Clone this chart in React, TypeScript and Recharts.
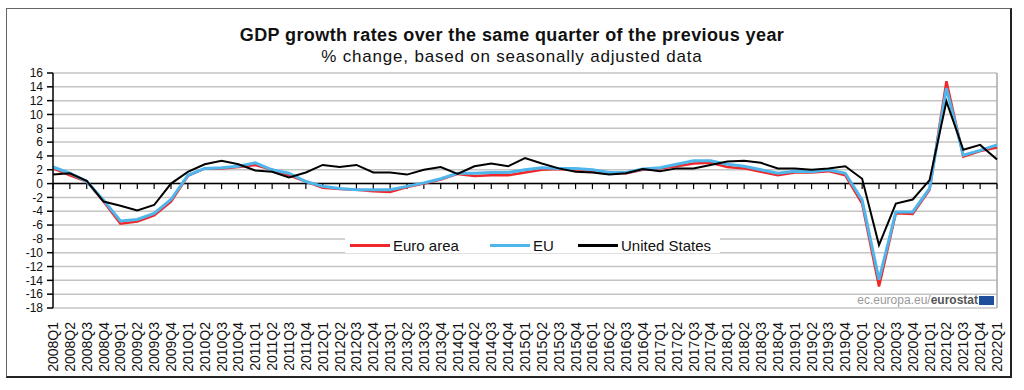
import React from 'react';
import { LineChart, Line, XAxis, YAxis, CartesianGrid, ReferenceLine, Legend } from 'recharts';

const quarters = [
  '2008Q1', '2008Q2', '2008Q3', '2008Q4', '2009Q1', '2009Q2', '2009Q3', '2009Q4',
  '2010Q1', '2010Q2', '2010Q3', '2010Q4', '2011Q1', '2011Q2', '2011Q3', '2011Q4',
  '2012Q1', '2012Q2', '2012Q3', '2012Q4', '2013Q1', '2013Q2', '2013Q3', '2013Q4',
  '2014Q1', '2014Q2', '2014Q3', '2014Q4', '2015Q1', '2015Q2', '2015Q3', '2015Q4',
  '2016Q1', '2016Q2', '2016Q3', '2016Q4', '2017Q1', '2017Q2', '2017Q3', '2017Q4',
  '2018Q1', '2018Q2', '2018Q3', '2018Q4', '2019Q1', '2019Q2', '2019Q3', '2019Q4',
  '2020Q1', '2020Q2', '2020Q3', '2020Q4', '2021Q1', '2021Q2', '2021Q3', '2021Q4',
  '2022Q1',
];

const euroArea = [
  2.2, 1.2, 0.3, -2.6, -5.8, -5.5, -4.6, -2.6,
  1.1, 2.2, 2.2, 2.4, 2.7, 2.0, 1.2, 0.3,
  -0.6, -0.8, -0.9, -1.1, -1.2, -0.5, 0.0, 0.6,
  1.4, 1.1, 1.2, 1.2, 1.6, 2.0, 2.1, 2.0,
  1.8, 1.5, 1.5, 2.0, 2.2, 2.5, 2.9, 3.0,
  2.4, 2.2, 1.7, 1.2, 1.6, 1.6, 1.8, 1.2,
  -2.9, -14.9, -4.3, -4.4, -0.9, 14.8, 3.9, 4.7,
  5.2,
];

const eu = [
  2.4, 1.5, 0.3, -2.4, -5.4, -5.2, -4.3, -2.3,
  1.2, 2.2, 2.3, 2.5, 3.0, 2.0, 1.5, 0.3,
  -0.4, -0.7, -0.9, -0.9, -0.9, -0.4, 0.1, 0.7,
  1.5, 1.5, 1.6, 1.6, 2.0, 2.3, 2.2, 2.2,
  2.0, 1.6, 1.6, 2.1, 2.3, 2.8, 3.3, 3.3,
  2.8, 2.5, 2.0, 1.5, 1.8, 1.7, 2.0, 1.5,
  -2.4, -13.9, -4.1, -4.1, -0.7, 13.8, 4.1, 4.8,
  5.6,
];

const unitedStates = [
  1.3, 1.5, 0.4, -2.6, -3.2, -3.9, -3.1, 0.0,
  1.7, 2.8, 3.3, 2.8, 1.9, 1.7, 0.9, 1.6,
  2.7, 2.4, 2.7, 1.6, 1.6, 1.3, 2.0, 2.4,
  1.4, 2.5, 2.9, 2.5, 3.7, 2.9, 2.2, 1.7,
  1.6, 1.3, 1.5, 2.1, 1.8, 2.2, 2.2, 2.7,
  3.2, 3.3, 3.0, 2.2, 2.2, 2.0, 2.2, 2.5,
  0.7, -8.9, -2.9, -2.3, 0.5, 11.9, 4.9, 5.6,
  3.5,
];

const yTicks = [16, 14, 12, 10, 8, 6, 4, 2, 0, -2, -4, -6, -8, -10, -12, -14, -16, -18];

const data = quarters.map((q, i) => ({
  q,
  euro: euroArea[i],
  eu: eu[i],
  us: unitedStates[i],
}));

const FONT = '"Liberation Sans", Arial, sans-serif';

const XTick = (props: any) => {
  const { x, y, payload } = props;
  return (
    <text
      x={x}
      y={y}
      transform={`rotate(-90 ${x} ${y})`}
      textAnchor="end"
      dy="0.36em"
      fontSize={14}
      fill="#111"
      fontFamily={FONT}
    >
      {payload.value}
    </text>
  );
};

const legendItems = [
  { name: 'Euro area', color: '#f0282a', left: 5 },
  { name: 'EU', color: '#4fb6ec', left: 145 },
  { name: 'United States', color: '#000000', left: 233 },
];

const LegendContent = () => (
  <div style={{ position: 'relative', width: 375, height: 15, background: '#fff' }}>
    {legendItems.map((it) => (
      <div
        key={it.name}
        style={{ position: 'absolute', left: it.left, top: 0, height: 15, display: 'flex', alignItems: 'center' }}
      >
        <div style={{ width: 40, height: 3, background: it.color }} />
        <span style={{ marginLeft: 3, fontSize: 15, fontFamily: FONT, color: '#111', lineHeight: '15px' }}>
          {it.name}
        </span>
      </div>
    ))}
  </div>
);

export default function App() {
  return (
    <div style={{ position: 'absolute', left: 0, top: 0, width: 1024, height: 390, background: '#fff', overflow: 'hidden' }}>
      <div
        style={{
          position: 'absolute',
          left: 6,
          top: 8,
          width: 1003,
          height: 367,
          borderTop: '1px solid #666',
          borderLeft: '1px solid #666',
          borderRight: '2px solid #222',
          borderBottom: '2px solid #222',
        }}
      />
      <div
        style={{
          position: 'absolute',
          left: 0,
          top: 25,
          width: 1024,
          textAlign: 'center',
          fontFamily: FONT,
          fontWeight: 'bold',
          fontSize: 18,
          letterSpacing: 0.4,
          color: '#111',
        }}
      >
        GDP growth rates over the same quarter of the previous year
      </div>
      <div
        style={{
          position: 'absolute',
          left: 0,
          top: 47,
          width: 1024,
          textAlign: 'center',
          fontFamily: FONT,
          fontSize: 17,
          letterSpacing: 0.8,
          color: '#111',
        }}
      >
        % change, based on seasonally adjusted data
      </div>
      <div style={{ position: 'absolute', left: 0, top: 0 }}>
        <LineChart width={1024} height={390} data={data} margin={{ top: 73, right: 27, left: 0, bottom: 0 }}>
          <CartesianGrid vertical={false} stroke="#c4c4c4" strokeWidth={1.5} />
          <XAxis
            dataKey="q"
            type="category"
            interval={0}
            height={82}
            axisLine={false}
            tickLine={false}
            tickMargin={8}
            tick={<XTick />}
          />
          <YAxis
            type="number"
            domain={[-18, 16]}
            ticks={yTicks}
            interval={0}
            width={53}
            tickSize={6}
            tickMargin={4}
            axisLine={{ stroke: '#000', strokeWidth: 1.5 }}
            tickLine={{ stroke: '#000', strokeWidth: 1.5 }}
            tick={{ fontSize: 12, fill: '#111', fontFamily: FONT }}
          />
          <ReferenceLine x={quarters[quarters.length - 1]} stroke="#a8a8a8" strokeWidth={1.5} />
          <ReferenceLine y={0} stroke="#000" strokeWidth={1.5} />
          {quarters.map((q) => (
            <ReferenceLine
              key={'t' + q}
              segment={[{ x: q, y: 0 }, { x: q, y: -0.8 }]}
              stroke="#000"
              strokeWidth={1.2}
            />
          ))}
          <Legend
            layout="horizontal"
            verticalAlign="middle"
            align="center"
            content={<LegendContent />}
            wrapperStyle={{ left: 345, top: 238, width: 375, height: 15 }}
          />
          <Line type="linear" dataKey="euro" stroke="#f0282a" strokeWidth={2.5} dot={false} isAnimationActive={false} />
          <Line type="linear" dataKey="eu" stroke="#4fb6ec" strokeWidth={3} dot={false} isAnimationActive={false} />
          <Line type="linear" dataKey="us" stroke="#000" strokeWidth={2} dot={false} isAnimationActive={false} />
        </LineChart>
      </div>
      <div
        style={{
          position: 'absolute',
          right: 30,
          top: 294,
          display: 'flex',
          alignItems: 'center',
          fontFamily: FONT,
          fontSize: 12,
          color: '#9a9a9a',
          lineHeight: '13px',
        }}
      >
        <span>ec.europa.eu/</span>
        <span style={{ fontWeight: 'bold', color: '#555' }}>eurostat</span>
        <div style={{ width: 15, height: 9, background: '#1f4e9c', marginLeft: 1 }} />
      </div>
    </div>
  );
}
